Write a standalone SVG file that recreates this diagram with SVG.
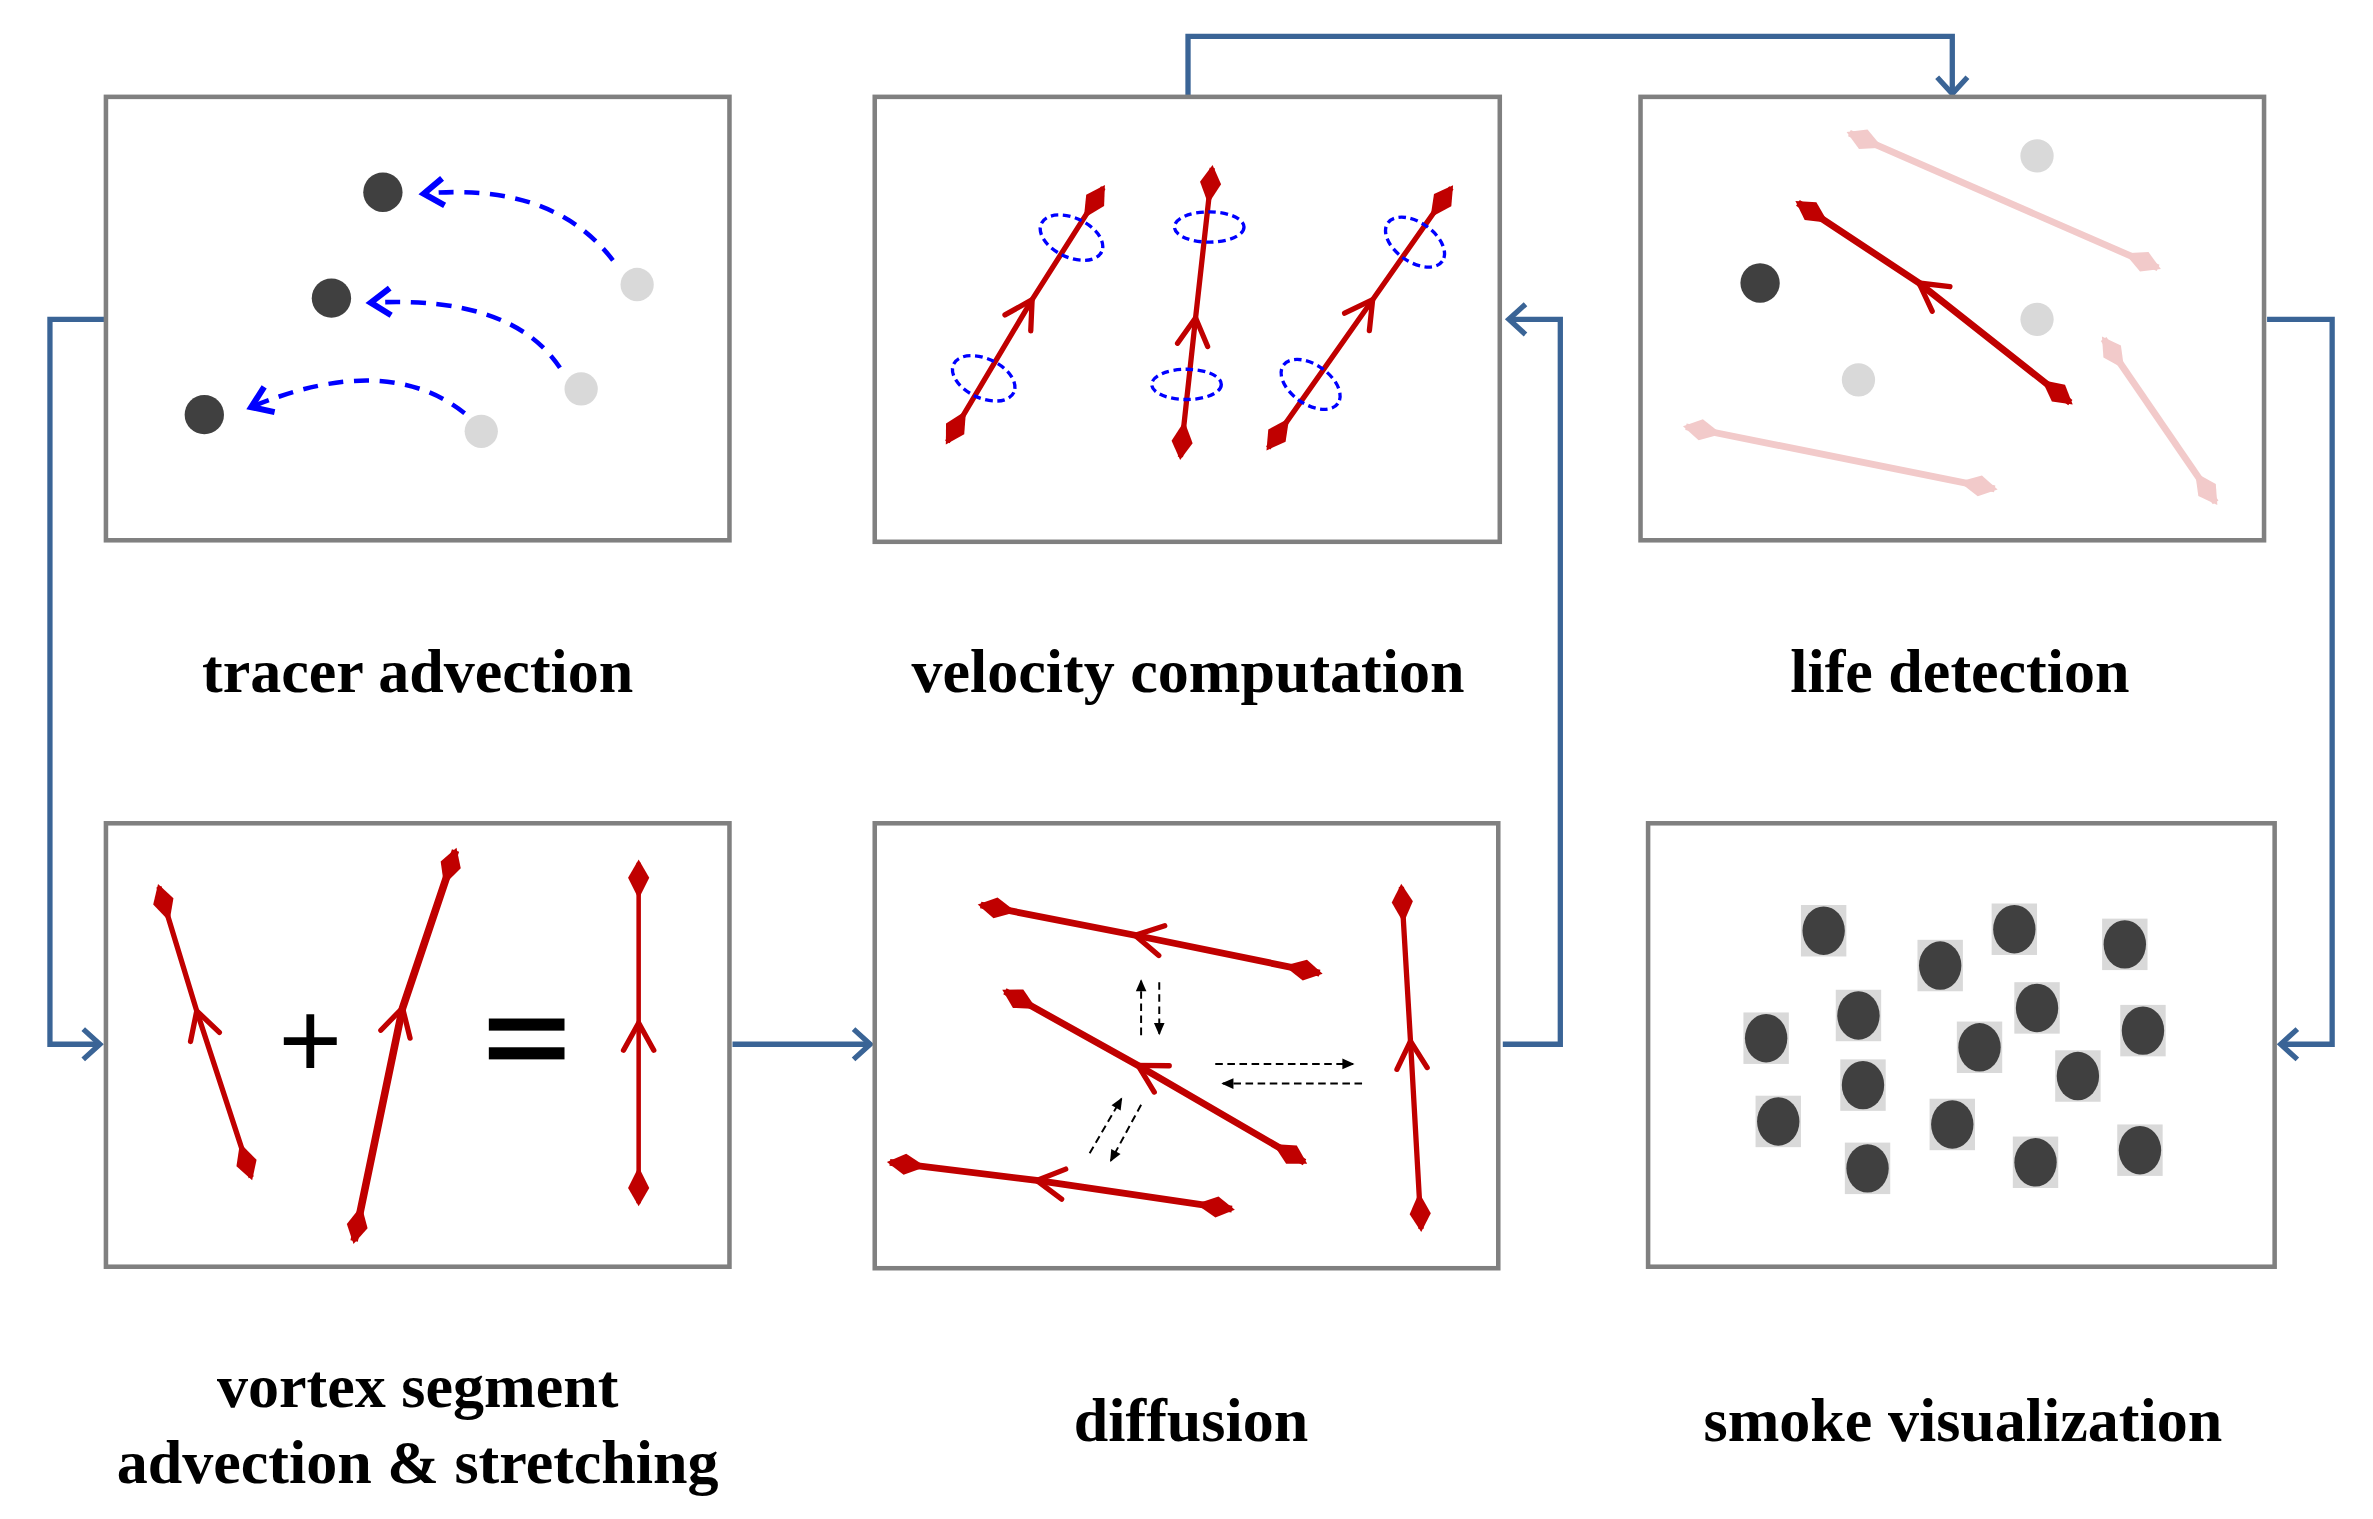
<svg xmlns="http://www.w3.org/2000/svg" width="2373" height="1519" viewBox="0 0 2373 1519">
<style>
.box{fill:#fff;stroke:#808080;stroke-width:3}
.lbl{font-family:"Liberation Serif",serif;font-weight:bold;font-size:41px;text-anchor:middle;fill:#000}
.conn{fill:none;stroke:#3A6496;stroke-width:3.5}
.red{fill:none;stroke:#C00000;stroke-width:3.5}
.pink{fill:none;stroke:#F2CACA;stroke-width:4.5}
.blued{fill:none;stroke:#0000FF;stroke-width:3;stroke-dasharray:10 7}
.ell{fill:none;stroke:#0000FF;stroke-width:2.2;stroke-dasharray:5 3}
.blk{fill:none;stroke:#000;stroke-width:1.3;stroke-dasharray:5 3}
.dk{fill:#404040}.lt{fill:#D9D9D9}
</style>
<defs>
<marker id="ca" markerUnits="userSpaceOnUse" markerWidth="30" markerHeight="30" orient="auto" overflow="visible"><path d="M-11,-10 L0,0 L-11,10" fill="none" stroke="#3A6496" stroke-width="3.5"/></marker>
<marker id="ba" markerUnits="userSpaceOnUse" markerWidth="30" markerHeight="30" orient="auto" overflow="visible"><path d="M-13,-9 L0,0 L-13,9" fill="none" stroke="#0000FF" stroke-width="4"/></marker>
<marker id="rm" markerUnits="userSpaceOnUse" markerWidth="40" markerHeight="40" orient="auto" overflow="visible"><path d="M-18,-10 L0,0 L-18,10" fill="none" stroke="#C00000" stroke-width="3.5" stroke-linecap="round"/></marker>
<marker id="rd" markerUnits="userSpaceOnUse" markerWidth="40" markerHeight="40" orient="auto-start-reverse" overflow="visible"><path d="M2,0 L-10,-7 L-24,0 L-10,7 Z" fill="#C00000"/></marker>
<marker id="pd" markerUnits="userSpaceOnUse" markerWidth="40" markerHeight="40" orient="auto-start-reverse" overflow="visible"><path d="M2,0 L-10,-7 L-24,0 L-10,7 Z" fill="#F2CACA"/></marker>
<marker id="ka" markerUnits="userSpaceOnUse" markerWidth="12" markerHeight="12" orient="auto" overflow="visible"><path d="M1,0 L-7,-3.5 L-7,3.5 Z" fill="#000"/></marker>
</defs>
<g transform="scale(1.5134)">
<g id="connectors">
<path class="conn" d="M785,64 V24 H1290 V62" marker-end="url(#ca)"/>
<path class="conn" d="M70,211 H33 V690 H66" marker-end="url(#ca)"/>
<path class="conn" d="M484,690 H575" marker-end="url(#ca)"/>
<path class="conn" d="M993,690 H1031 V211 H997" marker-end="url(#ca)"/>
<path class="conn" d="M1498,211 H1541 V690 H1507" marker-end="url(#ca)"/>
</g>
<g id="tracer-advection">
<rect class="box" x="70" y="64" width="412" height="293"/>
<circle class="lt" cx="421" cy="188" r="11"/><circle class="lt" cx="384" cy="257" r="11"/><circle class="lt" cx="318" cy="285" r="11"/>
<circle class="dk" cx="253" cy="127" r="13"/><circle class="dk" cx="219" cy="197" r="13"/><circle class="dk" cx="135" cy="274" r="13"/>
<path class="blued" d="M405,172 Q365,120 280,128" marker-end="url(#ba)"/>
<path class="blued" d="M370,243 Q338,195 245,200" marker-end="url(#ba)"/>
<path class="blued" d="M307,273 Q255,232 166,269" marker-end="url(#ba)"/>
<text class="lbl" x="276" y="457">tracer advection</text>
</g>
<g id="velocity-computation">
<rect class="box" x="578" y="64" width="413" height="294"/>
<path class="red" d="M626,292 L682,198 L729,124" marker-start="url(#rd)" marker-mid="url(#rm)" marker-end="url(#rd)"/>
<path class="red" d="M780,302 L790,210 L801,111" marker-start="url(#rd)" marker-mid="url(#rm)" marker-end="url(#rd)"/>
<path class="red" d="M838,296 L907,198 L959,124" marker-start="url(#rd)" marker-mid="url(#rm)" marker-end="url(#rd)"/>
<ellipse class="ell" cx="708" cy="157" rx="22" ry="13" transform="rotate(25 708 157)"/>
<ellipse class="ell" cx="650" cy="250" rx="22" ry="13" transform="rotate(25 650 250)"/>
<ellipse class="ell" cx="799" cy="150" rx="23" ry="10"/>
<ellipse class="ell" cx="784" cy="254" rx="23" ry="10"/>
<ellipse class="ell" cx="935" cy="160" rx="22" ry="13" transform="rotate(35 935 160)"/>
<ellipse class="ell" cx="866" cy="254" rx="22" ry="13" transform="rotate(35 866 254)"/>
<text class="lbl" x="785" y="457">velocity computation</text>
</g>
<g id="life-detection">
<rect class="box" x="1084" y="64" width="412" height="293"/>
<path class="pink" d="M1222,88 L1426,177" marker-start="url(#pd)" marker-end="url(#pd)"/>
<path class="pink" d="M1390,224 L1464,332" marker-start="url(#pd)" marker-end="url(#pd)"/>
<path class="pink" d="M1114,282 L1318,323" marker-start="url(#pd)" marker-end="url(#pd)"/>
<path class="red" style="stroke-width:4.5" d="M1368,266 L1268,187 L1188,134" marker-start="url(#rd)" marker-mid="url(#rm)" marker-end="url(#rd)"/>
<circle class="lt" cx="1346" cy="103" r="11"/><circle class="lt" cx="1346" cy="211" r="11"/><circle class="lt" cx="1228" cy="251" r="11"/>
<circle class="dk" cx="1163" cy="187" r="13"/>
<text class="lbl" x="1295" y="457">life detection</text>
</g>
<g id="vortex-segment">
<rect class="box" x="70" y="544" width="412" height="293"/>
<path class="red" d="M166,778 L130,668 L105,586" marker-start="url(#rd)" marker-mid="url(#rm)" marker-end="url(#rd)"/>
<path class="red" style="stroke-width:5" d="M234,820 L266,666 L301,562" marker-start="url(#rd)" marker-mid="url(#rm)" marker-end="url(#rd)"/>
<path class="red" style="stroke-width:3" d="M422,795 L422,676 L422,570" marker-start="url(#rd)" marker-mid="url(#rm)" marker-end="url(#rd)"/>
<text x="205" y="712" style="font-family:'Liberation Sans',sans-serif;font-size:72px;text-anchor:middle">+</text>
<rect x="323" y="673" width="50" height="8" fill="#000"/><rect x="323" y="692" width="50" height="8" fill="#000"/>
<text class="lbl" x="276" y="930">vortex segment</text>
<text class="lbl" x="276" y="980">advection &amp; stretching</text>
</g>
<g id="diffusion">
<rect class="box" x="578" y="544" width="412" height="294"/>
<path class="red" style="stroke-width:4.5" d="M872,643 L750,618 L648,598" marker-start="url(#rd)" marker-mid="url(#rm)" marker-end="url(#rd)"/>
<path class="red" style="stroke-width:4.5" d="M862,768 L752,704 L664,655" marker-start="url(#rd)" marker-mid="url(#rm)" marker-end="url(#rd)"/>
<path class="red" style="stroke-width:4.5" d="M814,799 L685,780 L588,768" marker-start="url(#rd)" marker-mid="url(#rm)" marker-end="url(#rd)"/>
<path class="red" d="M939,812 L932,688 L926,586" marker-start="url(#rd)" marker-mid="url(#rm)" marker-end="url(#rd)"/>
<path class="blk" d="M766,649 V683" marker-end="url(#ka)"/>
<path class="blk" d="M754,684 V648" marker-end="url(#ka)"/>
<path class="blk" d="M720,762 L741,726" marker-end="url(#ka)"/>
<path class="blk" d="M754,730 L734,767" marker-end="url(#ka)"/>
<path class="blk" d="M803,703 H894" marker-end="url(#ka)"/>
<path class="blk" d="M900,716 H808" marker-end="url(#ka)"/>
<text class="lbl" x="787" y="952">diffusion</text>
</g>
<g id="smoke-visualization">
<rect class="box" x="1089" y="544" width="414" height="293"/>
<g class="lt">
<rect x="1190" y="598" width="30" height="34"/><rect x="1267" y="621" width="30" height="34"/><rect x="1316" y="597" width="30" height="34"/><rect x="1389" y="607" width="30" height="34"/>
<rect x="1152" y="669" width="30" height="34"/><rect x="1213" y="654" width="30" height="34"/><rect x="1331" y="649" width="30" height="34"/><rect x="1293" y="675" width="30" height="34"/>
<rect x="1401" y="664" width="30" height="34"/><rect x="1216" y="700" width="30" height="34"/><rect x="1358" y="694" width="30" height="34"/><rect x="1160" y="724" width="30" height="34"/>
<rect x="1275" y="726" width="30" height="34"/><rect x="1219" y="755" width="30" height="34"/><rect x="1330" y="751" width="30" height="34"/><rect x="1399" y="743" width="30" height="34"/>
</g>
<g class="dk">
<ellipse cx="1205" cy="615" rx="14" ry="16"/><ellipse cx="1282" cy="638" rx="14" ry="16"/><ellipse cx="1331" cy="614" rx="14" ry="16"/><ellipse cx="1404" cy="624" rx="14" ry="16"/>
<ellipse cx="1167" cy="686" rx="14" ry="16"/><ellipse cx="1228" cy="671" rx="14" ry="16"/><ellipse cx="1346" cy="666" rx="14" ry="16"/><ellipse cx="1308" cy="692" rx="14" ry="16"/>
<ellipse cx="1416" cy="681" rx="14" ry="16"/><ellipse cx="1231" cy="717" rx="14" ry="16"/><ellipse cx="1373" cy="711" rx="14" ry="16"/><ellipse cx="1175" cy="741" rx="14" ry="16"/>
<ellipse cx="1290" cy="743" rx="14" ry="16"/><ellipse cx="1234" cy="772" rx="14" ry="16"/><ellipse cx="1345" cy="768" rx="14" ry="16"/><ellipse cx="1414" cy="760" rx="14" ry="16"/>
</g>
<text class="lbl" x="1297" y="952">smoke visualization</text>
</g>
</g>
</svg>
